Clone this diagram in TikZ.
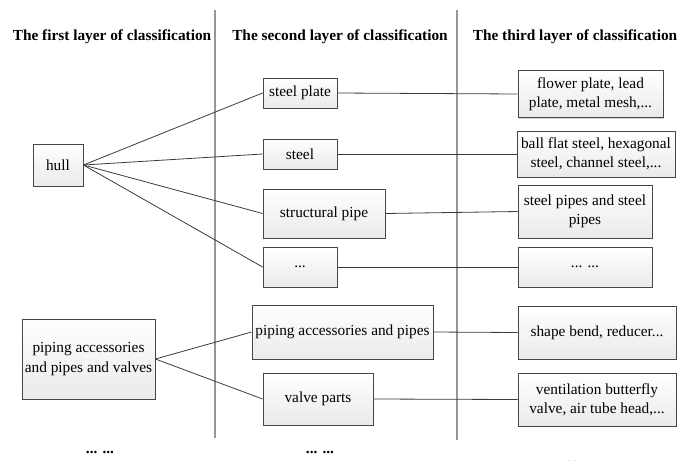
\documentclass[tikz,border=0pt]{standalone}
\usepackage{fontspec}
\setmainfont{Liberation Serif}
\usepackage{xcolor}
\usepackage{tikz}
\usetikzlibrary{shadows, calc}

\tikzset{
  box/.style={draw=boxline, line width=0.6pt, top color=white, bottom color=boxfill,
    drop shadow={shadow xshift=1pt, shadow yshift=-1pt, fill=gray!50, opacity=0.7},
    inner sep=0pt, align=center, font=\fontsize{11.5}{14.5}\selectfont},
  head/.style={font=\fontsize{11.5}{14}\selectfont\bfseries},
  link/.style={draw=linkc, line width=0.6pt},
  sep/.style={draw=sepc, line width=1.1pt}
}

\begin{document}
\begin{tikzpicture}[x=0.75pt,y=-0.75pt]
\definecolor{boxline}{RGB}{70,70,70}
\definecolor{boxfill}{RGB}{234,234,234}
\definecolor{linkc}{RGB}{60,60,60}
\definecolor{sepc}{RGB}{150,150,150}

\useasboundingbox (0,0) rectangle (689,461);

% Separators
\coordinate (s1a) at (215,10);
\coordinate (s1b) at (215,438);
\coordinate (s2a) at (457,10);
\coordinate (s2b) at (457,440);
\draw[sep] (s1a) -- (s1b);
\draw[sep] (s2a) -- (s2b);

% Headers
\node[head] (h1) at (112,37) {The first layer of classification};
\node[head] (h2) at (340,37) {The second layer of classification};
\node[head] (h3) at (575,37) {The third layer of classification};

% First layer
\node[box, minimum width=37.5pt, minimum height=31.5pt] (hull) at (58,165) {hull};
\node[box, minimum width=99.75pt, minimum height=60pt] (piping) at (88.5,359)
  {piping accessories\\and pipes and valves};

% Second layer
\node[box, minimum width=55.5pt, minimum height=22.5pt] (plate) at (300,93) {steel plate};
\node[box, minimum width=55.5pt, minimum height=22.5pt] (steel) at (300,154) {steel};
\node[box, minimum width=91.5pt, minimum height=36.75pt] (struct) at (324,213.5) {structural pipe};
\node[box, minimum width=55.5pt, minimum height=30pt] (dotsa) at (300,267) {...};
\node[box, minimum width=135.75pt, minimum height=40.5pt] (pipes) at (342.5,332) {piping accessories and pipes};
\node[box, minimum width=82.5pt, minimum height=39pt] (valve) at (318,399) {valve parts};

% Third layer
\node[box, minimum width=108.75pt, minimum height=35.25pt] (flower) at (590.5,94) {flower plate, lead\\plate, metal mesh,...};
\node[box, minimum width=118.5pt, minimum height=34.5pt] (ball) at (596,154) {ball flat steel, hexagonal\\steel, channel steel,...};
\node[box, minimum width=100.5pt, minimum height=39.75pt] (spipes) at (585,211.5) {steel pipes and steel\\pipes};
\node[box, minimum width=100.5pt, minimum height=30pt] (dotsb) at (585,267) {... ...};
\node[box, minimum width=118.5pt, minimum height=39.75pt] (bend) at (597,332.5) {shape bend, reducer...};
\node[box, minimum width=118.5pt, minimum height=39.75pt] (vent) at (597,399.5) {ventilation butterfly\\valve, air tube head,...};

% Links
\foreach \n in {plate, steel, struct, dotsa}
  \draw[link] (hull.east) -- (\n.west);
\draw[link] (piping.east) -- (pipes.west);
\draw[link] (piping.east) -- (valve.west);
\draw[link] (plate.east) -- (flower.west);
\draw[link] (steel.east) -- (ball.west);
\draw[link] (struct.east) -- (spipes.west);
\draw[link] (dotsa.east) -- (dotsb.west);
\draw[link] (pipes.east) -- (bend.west);
\draw[link] (valve.east) -- (vent.west);

% Bottom
\node[head] (more1) at (100,452) {... ...};
\node[head] (more2) at (320,452) {... ...};
\node[font=\tiny, text=gray!60] (more3) at (572,461) {... ...};

\end{tikzpicture}
\end{document}
